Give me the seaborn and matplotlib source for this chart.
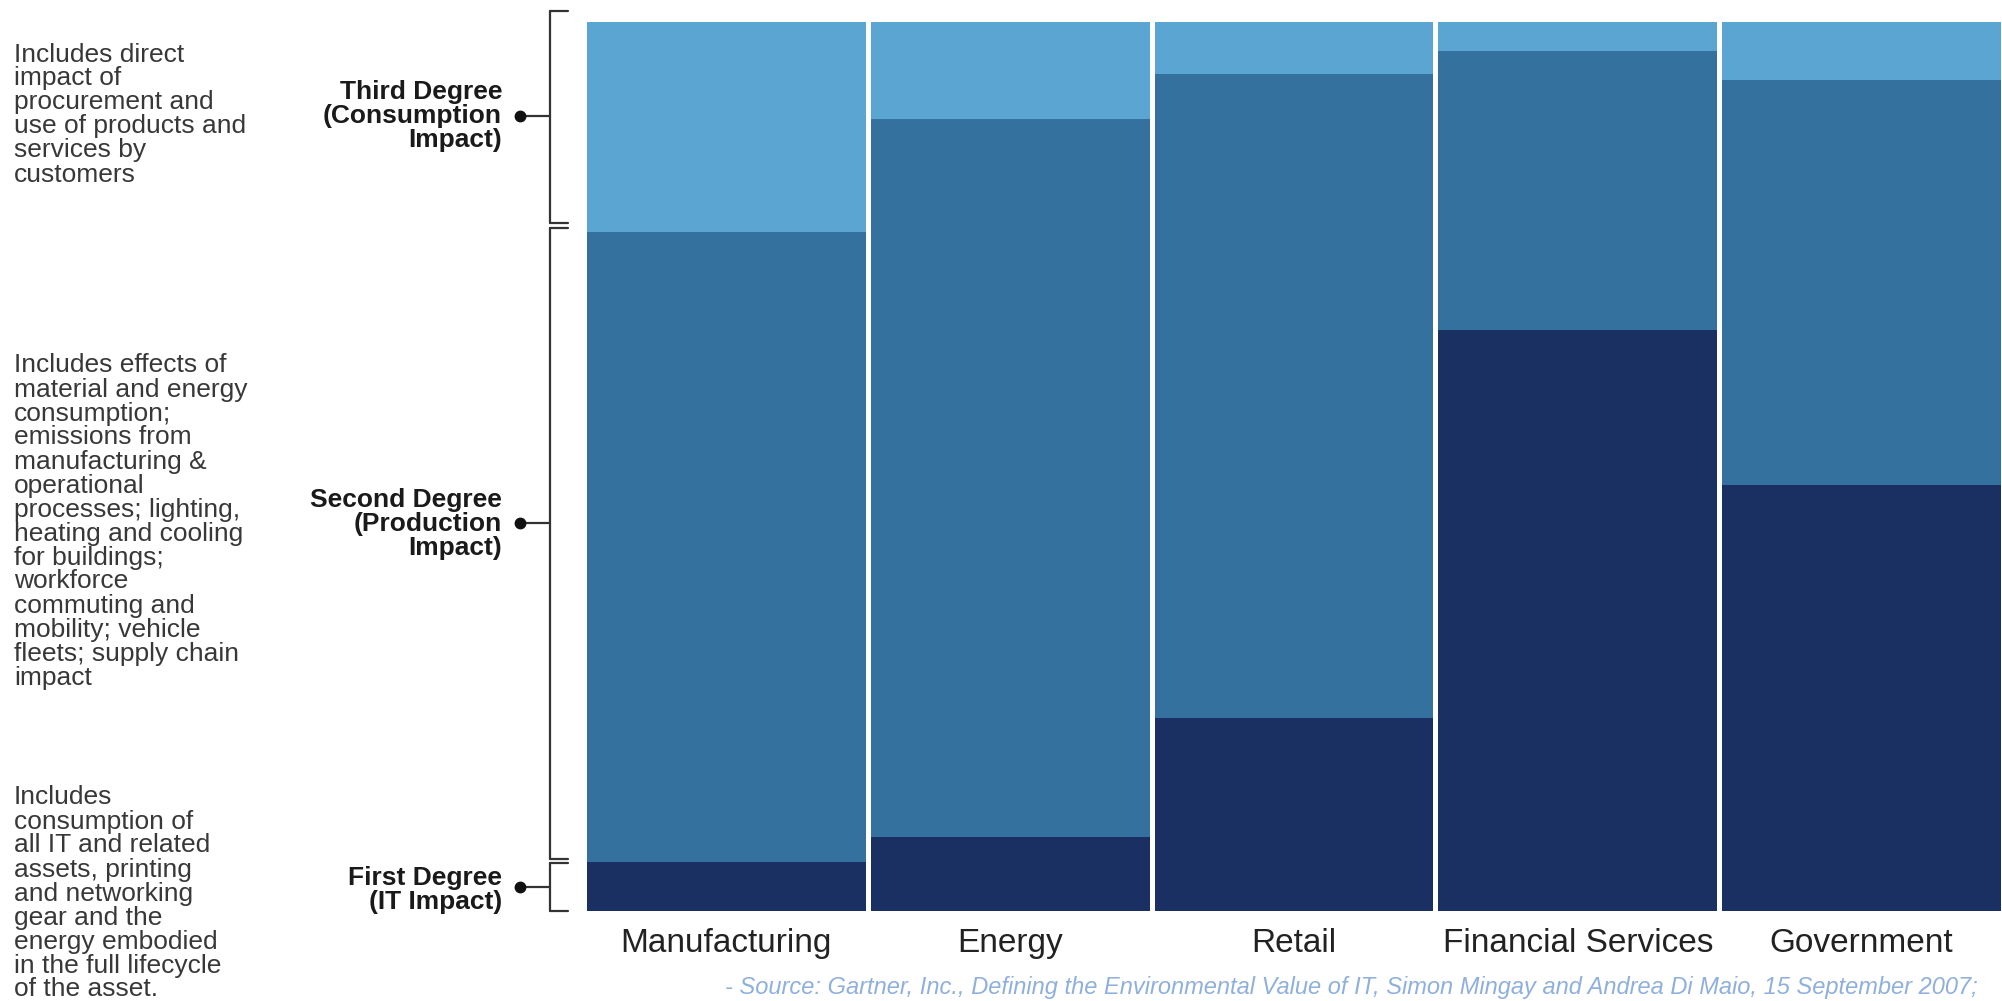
import matplotlib
matplotlib.use("Agg")
import matplotlib.pyplot as plt
from matplotlib.lines import Line2D
import seaborn as sns
import pandas as pd
import numpy as np

# ---------------- data ----------------
categories = ["Manufacturing", "Energy", "Retail", "Financial Services", "Government"]
first_degree = [5.5, 8.3, 21.7, 65.4, 47.9]     # IT impact (bottom)
second_degree = [70.9, 80.8, 72.4, 31.3, 45.6]  # production impact (middle)
third_degree = [23.6, 10.9, 5.9, 3.3, 6.5]      # consumption impact (top)

degree_labels = [
    ["Third Degree", "(Consumption", "Impact)"],
    ["Second Degree", "(Production", "Impact)"],
    ["First Degree", "(IT Impact)"],
]
descriptions = [
    ["Includes direct", "impact of", "procurement and", "use of products and",
     "services by", "customers"],
    ["Includes effects of", "material and energy", "consumption;", "emissions from",
     "manufacturing &", "operational", "processes; lighting,", "heating and cooling",
     "for buildings;", "workforce", "commuting and", "mobility; vehicle",
     "fleets; supply chain", "impact"],
    ["Includes", "consumption of", "all IT and related", "assets, printing",
     "and networking", "gear and the", "energy embodied", "in the full lifecycle",
     "of the asset."],
]
source_text = ("- Source: Gartner, Inc., Defining the Environmental Value of IT, "
               "Simon Mingay and Andrea Di Maio, 15 September 2007;")

# ---------------- style ----------------
sns.set_style("white")
plt.rcParams["font.family"] = ["Liberation Sans", "DejaVu Sans"]

C_THIRD = "#5aa5d2"
C_SECOND = "#34719f"
C_FIRST = "#1b3062"

W, H = 2002, 1001
fig = plt.figure(figsize=(W / 100, H / 100), dpi=100)
fig.patch.set_facecolor("white")

def fx(x):
    return x / W

def fy(y):
    return 1 - y / H

ax = fig.add_axes([fx(587), fy(911), (2001 - 587) / W, (911 - 22) / H])

df = pd.DataFrame({
    "category": categories,
    "first": first_degree,
    "second": second_degree,
    "third": third_degree,
})
df["cum2"] = df["first"] + df["second"]
df["cum3"] = df["cum2"] + df["third"]

bw = 0.982
sns.barplot(data=df, x="category", y="cum3", order=categories, color=C_THIRD,
            saturation=1, width=bw, ax=ax, linewidth=0)
sns.barplot(data=df, x="category", y="cum2", order=categories, color=C_SECOND,
            saturation=1, width=bw, ax=ax, linewidth=0)
sns.barplot(data=df, x="category", y="first", order=categories, color=C_FIRST,
            saturation=1, width=bw, ax=ax, linewidth=0)

ax.set_xlim(-bw / 2, len(categories) - 1 + bw / 2)
ax.set_ylim(0, 100)
ax.set_xlabel("")
ax.set_ylabel("")
ax.set_yticks([])
for s in ax.spines.values():
    s.set_visible(False)
ax.tick_params(axis="x", length=0, pad=12, labelsize=24, labelcolor="#222222")

# ---------------- brackets ----------------
lc = "#333333"
lw = 1.6
brackets = [(11, 223, 116), (228, 859, 523), (863, 911, 887)]
for top, bot, mid in brackets:
    fig.add_artist(Line2D([fx(550), fx(550)], [fy(top), fy(bot)], color=lc, lw=lw,
                          transform=fig.transFigure))
    for yy in (top, bot):
        fig.add_artist(Line2D([fx(549.5), fx(568)], [fy(yy), fy(yy)], color=lc, lw=lw,
                              transform=fig.transFigure))
    fig.add_artist(Line2D([fx(520), fx(550)], [fy(mid), fy(mid)], color=lc, lw=lw,
                          transform=fig.transFigure))
    fig.add_artist(Line2D([fx(520)], [fy(mid)], marker="o", markersize=7.5,
                          color="#111111", transform=fig.transFigure))

# ---------------- degree labels ----------------
label_y = [[90, 114, 138], [498, 522, 546], [876, 900]]
for lines, ys in zip(degree_labels, label_y):
    for txt, yy in zip(lines, ys):
        fig.text(fx(502), fy(yy), txt, ha="right", va="center_baseline",
                 fontsize=19, fontweight="bold", color="#1a1a1a")

# ---------------- descriptions ----------------
desc_start = [52, 363, 795]
step = 24.0
for lines, y0 in zip(descriptions, desc_start):
    for i, txt in enumerate(lines):
        fig.text(fx(14), fy(y0 + i * step), txt, ha="left", va="center_baseline",
                 fontsize=19, color="#383838")

# ---------------- source ----------------
fig.text(fx(725), fy(994), source_text, ha="left", va="baseline", fontsize=17,
         style="italic", color="#8fb0dc")

fig.savefig("out.png", dpi=100, facecolor="white")
